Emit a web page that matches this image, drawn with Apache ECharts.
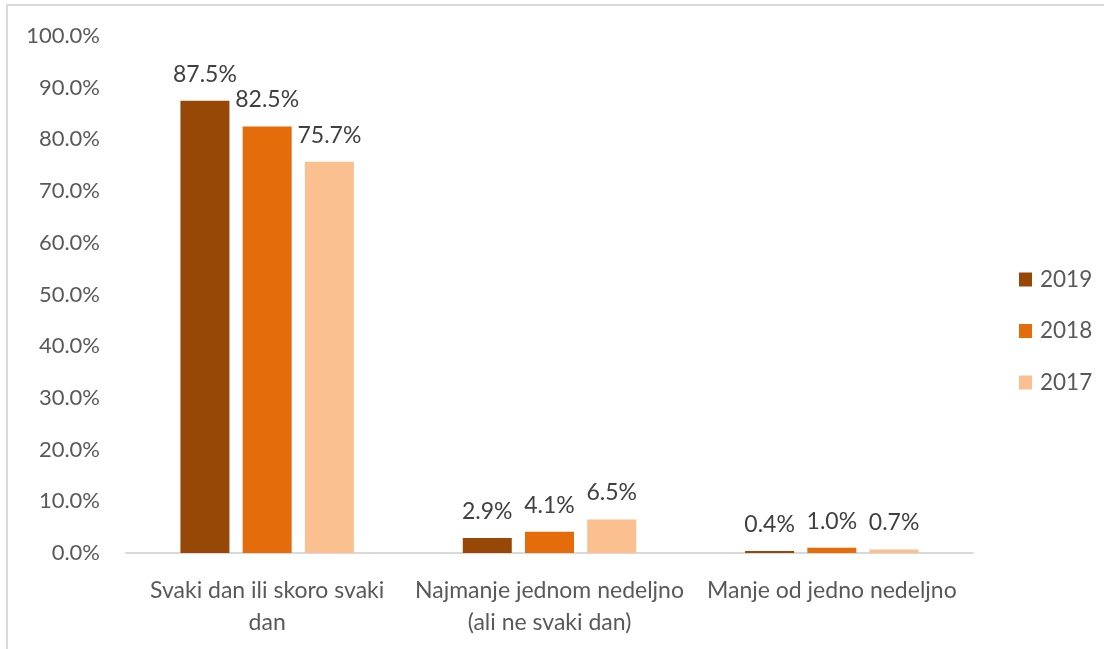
<!DOCTYPE html>
<html><head><meta charset="utf-8">
<script src="https://cdn.jsdelivr.net/npm/echarts@6/dist/echarts.min.js"></script>
<style>
html,body{margin:0;padding:0;background:#fff;overflow:hidden;}
#frame{position:absolute;left:6px;top:4px;width:1120px;height:660px;border:2px solid #d9d9d9;box-sizing:border-box;}
#chart{position:absolute;left:0;top:0;width:1104px;height:649px;}
</style></head>
<body>
<div id="frame"></div>
<div id="chart"></div>
<script>
const categories = ["Svaki dan ili skoro svaki\ndan", "Najmanje jednom nedeljno\n(ali ne svaki dan)", "Manje od jedno nedeljno"];
const seriesNames = ["2019", "2018", "2017"];
const values2019 = [87.5, 2.9, 0.4];
const values2018 = [82.5, 4.1, 1.0];
const values2017 = [75.7, 6.5, 0.7];
const colors = ["#974706", "#E46C0A", "#FAC090"];

const font = "Lato, 'Open Sans', sans-serif";
const chart = echarts.init(document.getElementById('chart'), null, {renderer:'canvas'});
const mk = (name, data, color) => ({
  name, type:'bar', data, barWidth:49, barGap:'27%',
  itemStyle:{color},
  label:{show:true, position:'top', distance:15, formatter:p=>p.value.toFixed(1)+'%',
    color:'#404040', fontSize:23, fontFamily:font}
});
chart.setOption({
  animation:false,
  color:colors,
  grid:{left:126, right:131, top:36, bottom:96, containLabel:false},
  legend:{orient:'vertical', left:1014, top:263, itemWidth:13, itemHeight:14, itemGap:28.5,
    icon:'rect', textStyle:{color:'#595959', fontSize:22.5, fontFamily:font, padding:[0,0,0,3]},
    data:seriesNames},
  xAxis:{type:'category', data:categories,
    axisLine:{lineStyle:{color:'#d9d9d9', width:2}}, axisTick:{show:false},
    axisLabel:{color:'#595959', fontSize:23, fontFamily:font, margin:22, lineHeight:32, interval:0}},
  yAxis:{type:'value', min:0, max:100, interval:10,
    axisLine:{show:false}, axisTick:{show:false}, splitLine:{show:false},
    axisLabel:{color:'#595959', fontSize:22, fontFamily:font, margin:26, formatter:v=>v.toFixed(1)+'%'}},
  series:[mk(seriesNames[0], values2019, colors[0]), mk(seriesNames[1], values2018, colors[1]), mk(seriesNames[2], values2017, colors[2])]
});
</script>
</body></html>
